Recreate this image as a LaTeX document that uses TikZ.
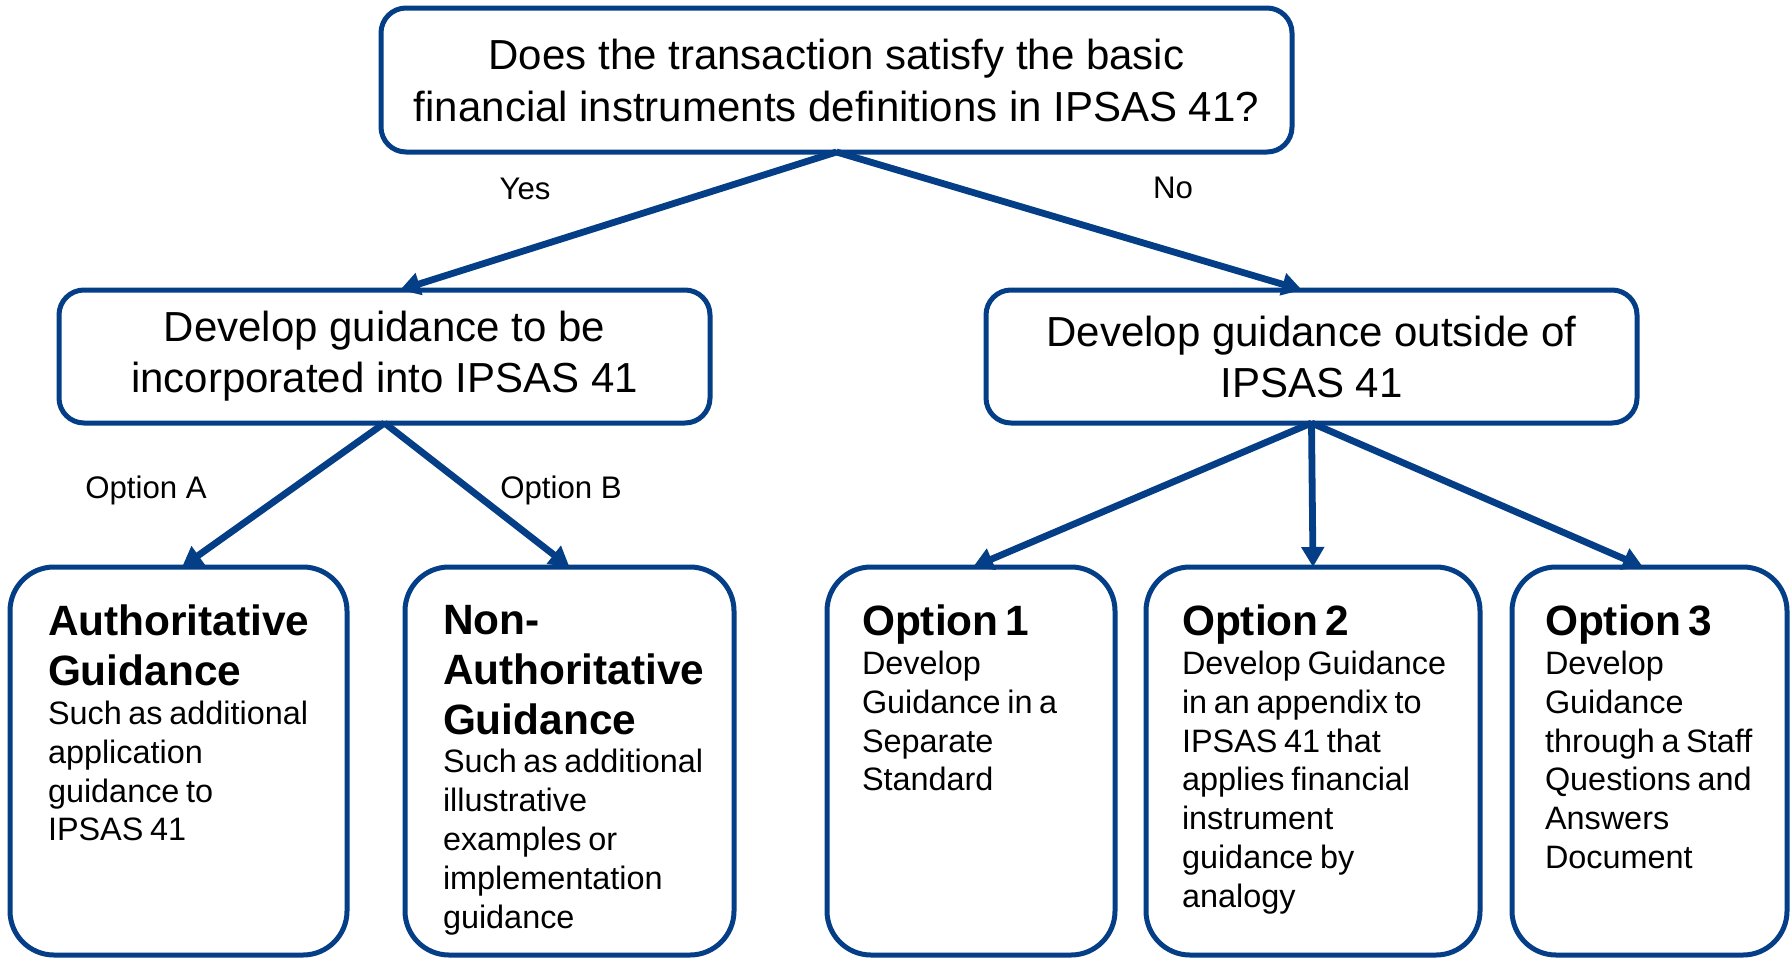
\documentclass[tikz,border=0pt]{standalone}
\usepackage{fontspec}
\setmainfont{Liberation Sans}
\usetikzlibrary{arrows.meta,calc}
\definecolor{ipblue}{RGB}{4,62,134}
\tikzset{
  box/.style={draw=ipblue, line width=2.5pt, fill=white, inner sep=0pt, outer sep=0pt},
  topbox/.style={box, rounded corners=12.5pt, align=center,
    font=\fontsize{21}{26}\selectfont},
  midbox/.style={box, rounded corners=12.5pt, align=center,
    font=\fontsize{21}{25.5}\selectfont},
  optbox/.style={box, rounded corners=22pt, minimum height=194pt},
  opttext/.style={anchor=north west, inner sep=0pt, outer sep=0pt, text width=165pt, align=left},
  arr/.style={draw=ipblue, line width=3.4pt, -{Triangle[length=10pt,width=11pt]}},
  lbl/.style={inner sep=0pt, font=\fontsize{15.6}{18}\selectfont},
}
\newcommand{\ttl}[1]{{\bfseries\fontsize{21.2}{25}\selectfont #1\par}}
\newcommand{\bdy}[1]{{\fontsize{16.2}{19.4}\selectfont #1\par}}
\begin{document}
\begin{tikzpicture}[x=0.5pt,y=-0.5pt]
\useasboundingbox (0,0) rectangle (1791,958);
% top question
\node[topbox, minimum width=455.5pt, minimum height=72pt] (t) at (836.5,80)
  {Does the transaction satisfy the basic\\financial instruments definitions in IPSAS 41?};
% middle boxes
\node[midbox, minimum width=325.5pt, minimum height=66.5pt] (ml) at (384.5,356.5)
  {Develop guidance to be\\incorporated into IPSAS 41};
\node[midbox, minimum width=325.5pt, minimum height=66.5pt] (mr) at (1311.5,356.5)
  {Develop guidance outside of\\IPSAS 41};
% bottom boxes
\node[optbox, minimum width=168.5pt] (b1) at (178.5,761) {};
\node[optbox, minimum width=164.5pt] (b2) at (569.5,761) {};
\node[optbox, minimum width=144pt] (b3) at (971,761) {};
\node[optbox, minimum width=167pt] (b4) at (1313,761) {};
\node[optbox, minimum width=137.5pt] (b5) at (1649.5,761) {};
% bottom texts
\node[opttext] (tx1) at ($(b1.north west)+(38,38)$)
  {\ttl{Authoritative\\Guidance}\bdy{Such as additional\\application\\guidance to\\IPSAS 41}};
\node[opttext] (tx2) at ($(b2.north west)+(38,38)$)
  {\ttl{Non-\\Authoritative\\Guidance}\bdy{Such as additional\\illustrative\\examples or\\implementation\\guidance}};
\node[opttext] (tx3) at ($(b3.north west)+(35,38)$)
  {\ttl{Option 1}\bdy{Develop\\Guidance in a\\Separate\\Standard}};
\node[opttext] (tx4) at ($(b4.north west)+(36,38)$)
  {\ttl{Option 2}\bdy{Develop Guidance\\in an appendix to\\IPSAS 41 that\\applies financial\\instrument\\guidance by\\analogy}};
\node[opttext] (tx5) at ($(b5.north west)+(33,38)$)
  {\ttl{Option 3}\bdy{Develop\\Guidance\\through a Staff\\Questions and\\Answers\\Document}};
% connectors
\draw[arr] (t.south) -- ([xshift=7.75pt]ml.north);
\draw[arr] (t.south) -- ([xshift=-4.75pt]mr.north);
\draw[arr] (ml.south) -- ([xshift=1.75pt]b1.north);
\draw[arr] (ml.south) -- (b2.north);
\draw[arr] (mr.south) -- ([xshift=1pt]b3.north);
\draw[arr] (mr.south) -- (b4.north);
\draw[arr] (mr.south) -- ([xshift=-3.25pt]b5.north);
% labels
\node[lbl] (yes) at (525,189) {Yes};
\node[lbl] (no) at (1173,188) {No};
\node[lbl] (oa) at (146,490) {Option A};
\node[lbl] (ob) at (561,490) {Option B};
\end{tikzpicture}
\end{document}
